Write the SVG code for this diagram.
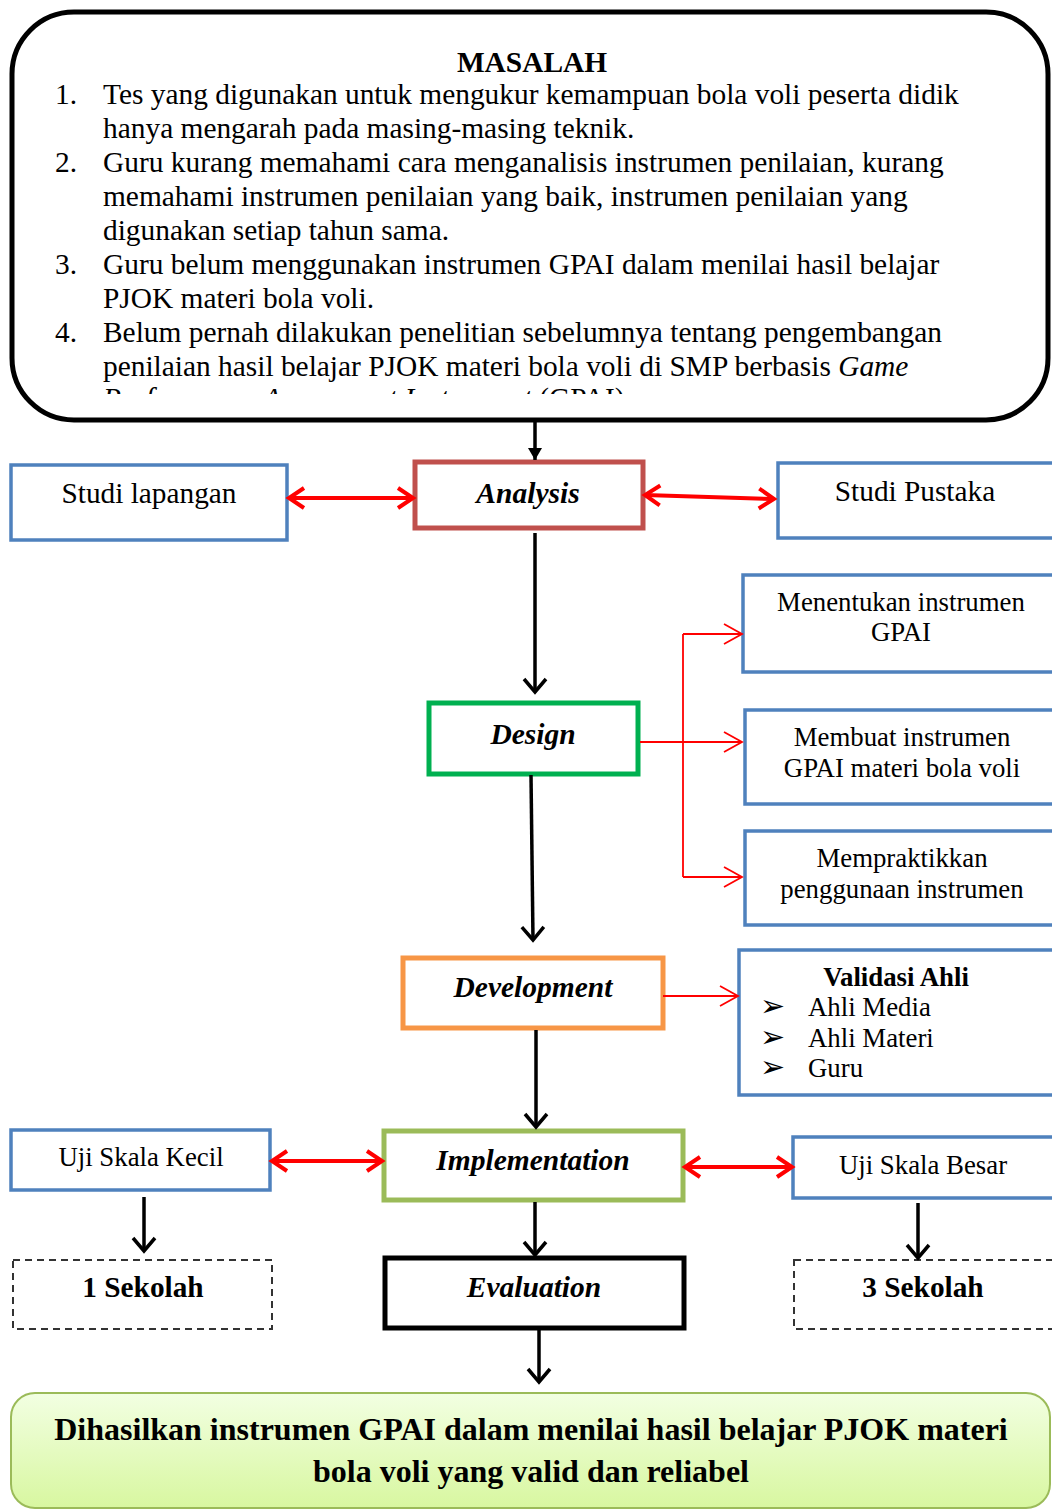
<svg xmlns="http://www.w3.org/2000/svg" width="1052" height="1511" viewBox="0 0 1052 1511">
<style>
text{font-family:"Liberation Serif","Times New Roman",serif;fill:#000}
.p{font-size:29.4px}
.n{font-size:29.3px}
.s{font-size:26.8px}
.h{font-size:29.5px;font-weight:bold;font-style:italic}
.b{font-weight:bold}
.blue{fill:#fff;stroke:#4f81bd;stroke-width:3.5}
.k{fill:none;stroke:#000;stroke-width:3.5}
.r{fill:none;stroke:#ff0000;stroke-width:4}
.rt{fill:none;stroke:#ff0000;stroke-width:1.8}
</style>
<defs>
<marker id="mk" markerUnits="userSpaceOnUse" markerWidth="30" markerHeight="30" refX="16" refY="13" orient="auto"><path d="M3,2 L16,13 L3,24" fill="none" stroke="#000" stroke-width="3.5"/></marker>
<marker id="mkf" markerUnits="userSpaceOnUse" markerWidth="20" markerHeight="20" refX="12" refY="7" orient="auto"><path d="M0,0 L12,7 L0,14 Z" fill="#000"/></marker>
<marker id="mr" markerUnits="userSpaceOnUse" markerWidth="30" markerHeight="30" refX="17" refY="13" orient="auto-start-reverse"><path d="M2,3 L17,13 L2,23" fill="none" stroke="#ff0000" stroke-width="4"/></marker>
<marker id="mrt" markerUnits="userSpaceOnUse" markerWidth="30" markerHeight="30" refX="20" refY="12" orient="auto"><path d="M2,2 L20,12 L2,22" fill="none" stroke="#ff0000" stroke-width="1.8"/></marker>
<linearGradient id="gg" x1="0" y1="0" x2="0" y2="1"><stop offset="0" stop-color="#f2ffe2"/><stop offset="1" stop-color="#d8f7a0"/></linearGradient>
<clipPath id="cl"><rect x="12" y="12" width="1040" height="382"/></clipPath>
</defs>

<g id="masalah">
<rect x="12" y="12" width="1036" height="408" rx="62" fill="#fff" stroke="#000" stroke-width="5"/>
<text x="532" y="72" text-anchor="middle" class="p b">MASALAH</text>
<g clip-path="url(#cl)">
<text x="55" y="104" class="p">1.</text><text x="103" y="104" class="p">Tes yang digunakan untuk mengukur kemampuan bola voli peserta didik</text>
<text x="103" y="138" class="p">hanya mengarah pada masing-masing teknik.</text>
<text x="55" y="172" class="p">2.</text><text x="103" y="172" class="p">Guru kurang memahami cara menganalisis instrumen penilaian, kurang</text>
<text x="103" y="206" class="p">memahami instrumen penilaian yang baik, instrumen penilaian yang</text>
<text x="103" y="240" class="p">digunakan setiap tahun sama.</text>
<text x="55" y="274" class="p">3.</text><text x="103" y="274" class="p">Guru belum menggunakan instrumen GPAI dalam menilai hasil belajar</text>
<text x="103" y="308" class="p">PJOK materi bola voli.</text>
<text x="55" y="342" class="p">4.</text><text x="103" y="342" class="p">Belum pernah dilakukan penelitian sebelumnya tentang pengembangan</text>
<text x="103" y="376" class="p">penilaian hasil belajar PJOK materi bola voli di SMP berbasis <tspan font-style="italic">Game</tspan></text>
<text x="103" y="408" class="p"><tspan font-style="italic">Performance Assessment Instrument</tspan> (GPAI).</text>
</g>
</g>

<g id="studi-lapangan"><rect x="11" y="465" width="276" height="75" class="blue"/><text x="149" y="503" text-anchor="middle" class="n">Studi lapangan</text></g>
<g id="analysis"><rect x="415" y="462" width="228" height="66" fill="#fff" stroke="#c0504d" stroke-width="5"/><text x="528" y="503" text-anchor="middle" class="h">Analysis</text></g>
<g id="studi-pustaka"><rect x="778" y="463" width="280" height="75" class="blue"/><text x="915" y="501" text-anchor="middle" class="n">Studi Pustaka</text></g>

<g id="menentukan"><rect x="743" y="575" width="315" height="97" class="blue"/><text x="901" y="611" text-anchor="middle" class="s">Menentukan instrumen</text><text x="901" y="641" text-anchor="middle" class="s">GPAI</text></g>
<g id="design"><rect x="429" y="703" width="209" height="71" fill="#fff" stroke="#00b050" stroke-width="5"/><text x="533" y="744" text-anchor="middle" class="h">Design</text></g>
<g id="membuat"><rect x="745" y="710" width="313" height="94" class="blue"/><text x="902" y="746" text-anchor="middle" class="s">Membuat instrumen</text><text x="902" y="777" text-anchor="middle" class="s">GPAI materi bola voli</text></g>
<g id="mempraktikkan"><rect x="745" y="831" width="313" height="94" class="blue"/><text x="902" y="867" text-anchor="middle" class="s">Mempraktikkan</text><text x="902" y="898" text-anchor="middle" class="s">penggunaan instrumen</text></g>

<g id="development"><rect x="403" y="958" width="260" height="70" fill="#fff" stroke="#f79646" stroke-width="5"/><text x="533" y="997" text-anchor="middle" class="h">Development</text></g>
<g id="validasi"><rect x="739" y="950" width="319" height="145" class="blue"/>
<text x="896" y="986" text-anchor="middle" class="s b">Validasi Ahli</text>
<text x="760" y="1016" font-size="30">➢</text><text x="808" y="1016" class="s">Ahli Media</text>
<text x="760" y="1047" font-size="30">➢</text><text x="808" y="1047" class="s">Ahli Materi</text>
<text x="760" y="1077" font-size="30">➢</text><text x="808" y="1077" class="s">Guru</text>
</g>

<g id="uji-kecil"><rect x="11" y="1130" width="259" height="60" class="blue"/><text x="141" y="1166" text-anchor="middle" class="s">Uji Skala Kecil</text></g>
<g id="implementation"><rect x="384" y="1131" width="299" height="69" fill="#fff" stroke="#9bbb59" stroke-width="5"/><text x="533" y="1170" text-anchor="middle" class="h">Implementation</text></g>
<g id="uji-besar"><rect x="793" y="1137" width="265" height="61" class="blue"/><text x="923" y="1174" text-anchor="middle" class="s">Uji Skala Besar</text></g>

<g id="sekolah1"><rect x="13" y="1260" width="259" height="69" fill="#fff" stroke="#333" stroke-width="2" stroke-dasharray="7,5"/><text x="143" y="1297" text-anchor="middle" class="n b">1 Sekolah</text></g>
<g id="evaluation"><rect x="385" y="1258" width="299" height="70" fill="#fff" stroke="#000" stroke-width="5"/><text x="534" y="1297" text-anchor="middle" class="h">Evaluation</text></g>
<g id="sekolah3"><rect x="794" y="1260" width="264" height="69" fill="#fff" stroke="#333" stroke-width="2" stroke-dasharray="7,5"/><text x="923" y="1297" text-anchor="middle" class="n b">3 Sekolah</text></g>

<g id="hasil"><rect x="11" y="1393" width="1039" height="115" rx="24" fill="url(#gg)" stroke="#9bbb59" stroke-width="2"/>
<text x="531" y="1440" text-anchor="middle" font-size="32" class="b">Dihasilkan instrumen GPAI dalam menilai hasil belajar PJOK materi</text>
<text x="531" y="1482" text-anchor="middle" font-size="32" class="b">bola voli yang valid dan reliabel</text>
</g>

<g id="connectors">
<line x1="535" y1="422" x2="535" y2="460" class="k" marker-end="url(#mkf)"/>
<line x1="289" y1="498" x2="413" y2="498" class="r" marker-start="url(#mr)" marker-end="url(#mr)"/>
<line x1="645" y1="495" x2="774" y2="499" class="r" marker-start="url(#mr)" marker-end="url(#mr)"/>
<line x1="535" y1="533" x2="535" y2="692" class="k" marker-end="url(#mk)"/>
<line x1="640" y1="742" x2="742" y2="742" class="rt" marker-end="url(#mrt)"/>
<line x1="683" y1="634" x2="683" y2="877" class="rt"/>
<line x1="683" y1="634" x2="742" y2="634" class="rt" marker-end="url(#mrt)"/>
<line x1="683" y1="877" x2="742" y2="877" class="rt" marker-end="url(#mrt)"/>
<line x1="531" y1="775" x2="533" y2="940" class="k" marker-end="url(#mk)"/>
<line x1="663" y1="996" x2="738" y2="996" class="rt" marker-end="url(#mrt)"/>
<line x1="536" y1="1030" x2="536" y2="1127" class="k" marker-end="url(#mk)"/>
<line x1="272" y1="1161" x2="382" y2="1161" class="r" marker-start="url(#mr)" marker-end="url(#mr)"/>
<line x1="685" y1="1167" x2="792" y2="1167" class="r" marker-start="url(#mr)" marker-end="url(#mr)"/>
<line x1="144" y1="1197" x2="144" y2="1251" class="k" marker-end="url(#mk)"/>
<line x1="918" y1="1203" x2="918" y2="1258" class="k" marker-end="url(#mk)"/>
<line x1="535" y1="1202" x2="535" y2="1255" class="k" marker-end="url(#mk)"/>
<line x1="539" y1="1330" x2="539" y2="1382" class="k" marker-end="url(#mk)"/>
</g>
</svg>
